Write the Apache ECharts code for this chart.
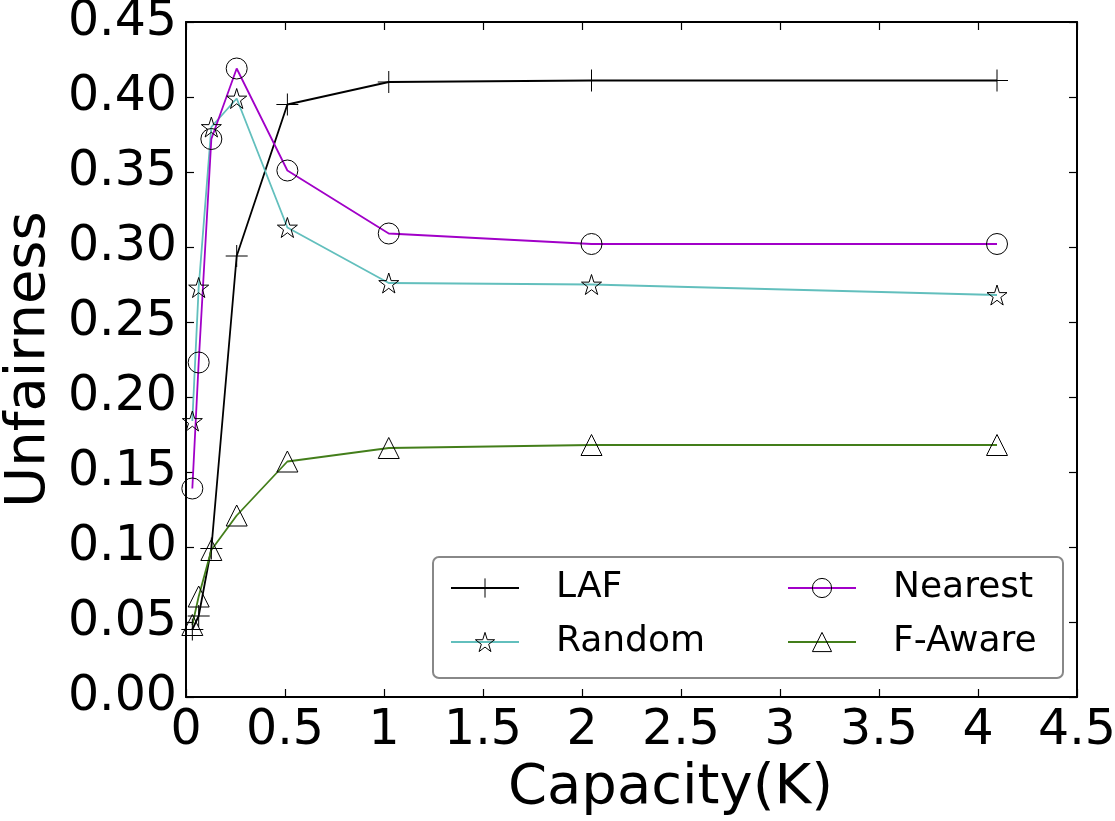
<!DOCTYPE html>
<html>
<head>
<meta charset="utf-8">
<script src="https://cdn.jsdelivr.net/npm/echarts@6/dist/echarts.min.js"></script>
<style>
    html, body { margin: 0; padding: 0; background: #fff; }
    #chart { width: 1115px; height: 821px; }
</style>
</head>
<body>
<div id="chart"></div>
<script>
// capacity (K) values on the x axis
var capacity = [0.032, 0.064, 0.128, 0.256, 0.512, 1.024, 2.048, 4.096];

// unfairness per method
var lafValues = [0.045, 0.054, 0.099, 0.294, 0.395, 0.410, 0.411, 0.411];
var randomValues = [0.184, 0.273, 0.380, 0.399, 0.313, 0.276, 0.275, 0.268];
var nearestValues = [0.139, 0.223, 0.372, 0.419, 0.351, 0.309, 0.302, 0.302];
var fawareValues = [0.048, 0.067, 0.098, 0.121, 0.157, 0.166, 0.168, 0.168];

var seriesNames = ['LAF', 'Random', 'Nearest', 'F-Aware'];

var FONT = 'DejaVu Sans';
var PLUS = 'path://M0,-1L0,1M-1,0L1,0';
var STAR = 'path://M0,-1L0.2245,-0.309L0.951,-0.309L0.363,0.118L0.588,0.809L0,0.382L-0.588,0.809L-0.363,0.118L-0.951,-0.309L-0.2245,-0.309Z';

function hollow() {
    return { color: 'rgba(255,255,255,0)', borderColor: '#000', borderWidth: 1 };
}

function pairs(ys) {
    return capacity.map(function (x, i) { return [x, ys[i]]; });
}

function makeSeries(name, ys, color, symbol, size) {
    return {
        name: name,
        type: 'line',
        data: pairs(ys),
        symbol: symbol,
        symbolSize: size,
        showAllSymbol: true,
        lineStyle: { color: color, width: 1.8 },
        itemStyle: hollow(),
        emphasis: { disabled: true },
        animation: false
    };
}

function axisLine() {
    return { show: true, onZero: false, lineStyle: { color: '#000', width: 2 } };
}

function tick() {
    return { show: true, inside: true, length: 8, lineStyle: { color: '#000', width: 1.2 } };
}

var myChart = echarts.init(document.getElementById('chart'));

var option = {
    backgroundColor: '#fff',
    animation: false,
    grid: { left: 186, right: 38, top: 22, bottom: 124, containLabel: false, outerBoundsMode: 'none' },
    legend: {
        left: 433,
        top: 557,
        width: 620,
        orient: 'horizontal',
        padding: [11, 10, 16, 17],
        itemGap: 14,
        itemWidth: 68,
        itemHeight: 24,
        borderColor: '#888',
        borderWidth: 2,
        borderRadius: 6,
        backgroundColor: '#fff',
        selectedMode: false,
        textStyle: {
            fontFamily: FONT, fontSize: 36, color: '#000',
            lineHeight: 40, padding: [0, 0, 0, 32]
        },
        data: [
            { name: 'LAF', itemStyle: hollow(), textStyle: { width: 217 } },
            { name: 'Nearest', itemStyle: hollow(), textStyle: { width: 160 } },
            { name: 'Random', itemStyle: hollow(), textStyle: { width: 217 } },
            { name: 'F-Aware', itemStyle: hollow(), textStyle: { width: 160 } }
        ]
    },
    xAxis: [{
        type: 'value',
        position: 'bottom',
        min: 0, max: 4.5, interval: 0.5,
        name: 'Capacity(K)',
        nameLocation: 'middle',
        nameGap: 34,
        nameTextStyle: { fontFamily: FONT, fontSize: 56, color: '#000', padding: [0, 0, 0, 78] },
        axisLine: axisLine(),
        axisTick: tick(),
        splitLine: { show: false },
        axisLabel: { fontFamily: FONT, fontSize: 49, color: '#000', margin: 10 }
    }, {
        type: 'value',
        position: 'top',
        min: 0, max: 4.5, interval: 0.5,
        axisLine: axisLine(),
        axisTick: tick(),
        splitLine: { show: false },
        axisLabel: { show: false }
    }],
    yAxis: [{
        type: 'value',
        position: 'left',
        min: 0, max: 0.45, interval: 0.05,
        name: 'Unfairness',
        nameLocation: 'middle',
        nameGap: 129,
        nameTextStyle: { fontFamily: FONT, fontSize: 56, color: '#000' },
        axisLine: axisLine(),
        axisTick: tick(),
        splitLine: { show: false },
        axisLabel: {
            fontFamily: FONT, fontSize: 49, color: '#000', margin: 9,
            formatter: function (v) { return v.toFixed(2); }
        }
    }, {
        type: 'value',
        position: 'right',
        min: 0, max: 0.45, interval: 0.05,
        axisLine: axisLine(),
        axisTick: tick(),
        splitLine: { show: false },
        axisLabel: { show: false }
    }],
    series: [
        makeSeries(seriesNames[0], lafValues, '#000000', PLUS, 22),
        makeSeries(seriesNames[1], randomValues, '#62bfbd', STAR, 20),
        makeSeries(seriesNames[2], nearestValues, '#a100c8', 'circle', 21),
        makeSeries(seriesNames[3], fawareValues, '#437e1a', 'triangle', 21)
    ]
};

myChart.setOption(option);

window.addEventListener('resize', function () {
    myChart.resize();
});
</script>
</body>
</html>
